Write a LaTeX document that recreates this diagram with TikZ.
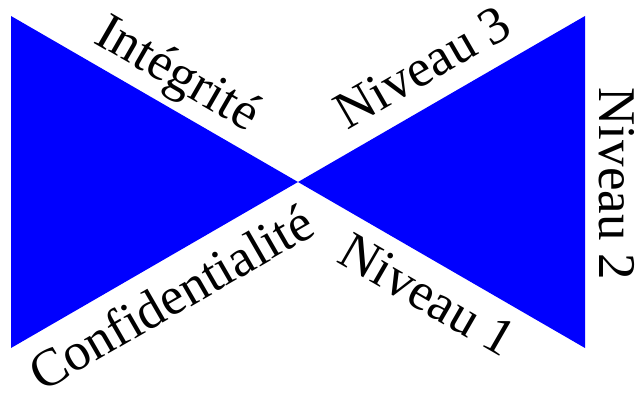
\documentclass[tikz,border=0pt]{standalone}
\usepackage{fontspec}
\setmainfont{Liberation Serif}
\tikzset{
  wing/.style={fill=blue, draw=none},
  lbl/.style={anchor=base, inner sep=0pt, font=\fontsize{53}{53}\selectfont},
}
\begin{document}
\begin{tikzpicture}[x=1pt, y=-1pt]
  \useasboundingbox (0,0) rectangle (640,396);
  % corners of the two triangles
  \coordinate (tl) at (11,16);
  \coordinate (bl) at (11,348);
  \coordinate (mid) at (298,182);
  \coordinate (tr) at (585,16);
  \coordinate (br) at (585,348);
  \fill[wing] (tl) -- (mid) -- (bl) -- cycle;
  \fill[wing] (tr) -- (mid) -- (br) -- cycle;
  % labels along the edges
  \node[lbl, rotate=-30] (integ) at (170,87) {Intégrité};
  \node[lbl, rotate=30] (niv3) at (431,82) {Niveau 3};
  \node[lbl, rotate=-90] (niv2) at (599,184) {Niveau 2};
  \node[lbl, rotate=-30] (niv1) at (419,310) {Niveau 1};
  \node[lbl, rotate=30] (conf) at (180,313) {Confidentialité};
\end{tikzpicture}
\end{document}
